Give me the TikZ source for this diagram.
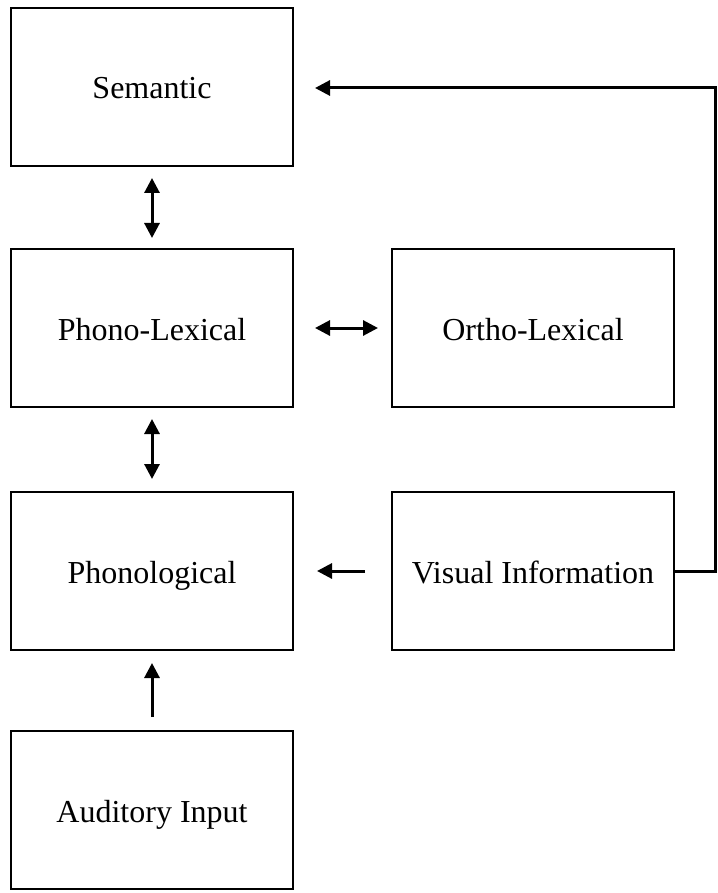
\documentclass[tikz,border=0pt]{standalone}
\usepackage{fontspec}
\setmainfont{Liberation Serif}
\usetikzlibrary{arrows.meta}
\begin{document}
\begin{tikzpicture}[x=1pt,y=-1pt,
  box/.style={draw,line width=2pt,minimum width=282pt,minimum height=158pt,inner sep=0pt,text height=24pt,text depth=0pt,font=\fontsize{32}{38}\selectfont},
  conn/.style={line width=3pt,-{Triangle[length=15pt,width=15pt]}},
  conn2/.style={line width=3pt,{Triangle[length=15pt,width=15pt]}-{Triangle[length=15pt,width=15pt]}}]
\useasboundingbox (0,0) rectangle (717,893);
\node[box] (sem) at (152,87) {Semantic};
\node[box] (plex) at (152,328) {Phono-Lexical};
\node[box] (olex) at (533,328) {Ortho-Lexical};
\node[box] (phon) at (152,571) {Phonological};
\node[box] (vis) at (533,571) {Visual Information};
\node[box] (aud) at (152,810) {Auditory Input};
\draw[conn2] ([yshift=-11pt]sem.south) -- ([yshift=10pt]plex.north);
\draw[conn2] ([yshift=-11pt]plex.south) -- ([yshift=12pt]phon.north);
\draw[conn2] ([xshift=21pt]plex.east) -- ([xshift=-13pt]olex.west);
\draw[conn] ([xshift=-26pt]vis.west) -- ([xshift=23pt]phon.east);
\draw[conn] ([yshift=13pt]aud.north) -- ([yshift=-12pt]phon.south);
\coordinate (c1) at (715,571);
\coordinate (c2) at (715,88);
\draw[conn] (vis.east) -- (c1) -- (c2) -- ([xshift=21pt]c2 -| sem.east);
\end{tikzpicture}
\end{document}
